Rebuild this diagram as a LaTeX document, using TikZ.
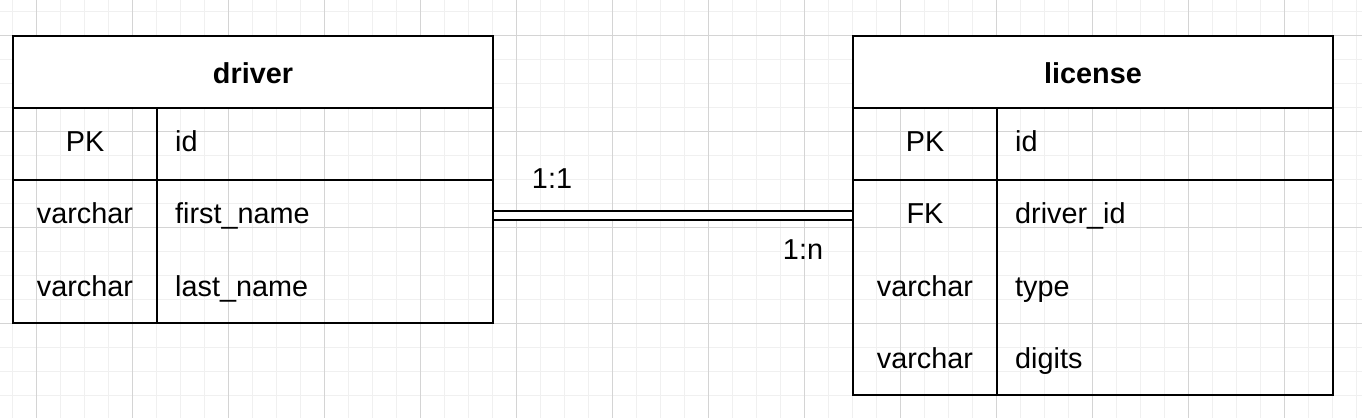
\documentclass[tikz,border=0pt]{standalone}
\usepackage{fontspec}
\setmainfont{Liberation Sans}

\begin{document}
\begin{tikzpicture}[x=1pt,y=-1pt,
    font=\fontsize{28.8}{34}\selectfont,
    minorgrid/.style={draw=black!6,line width=1pt},
    majorgrid/.style={draw=black!17,line width=1pt},
    tablebox/.style={draw,line width=2.4pt,inner sep=0pt,minimum width=480pt},
    headbox/.style={tablebox,fill=white,minimum height=72pt},
    rule/.style={line width=2.4pt},
    keytext/.style={anchor=base,inner sep=0pt},
    fieldtext/.style={anchor=base west,inner sep=0pt},
    relline/.style={draw,line width=2.4pt,double,double distance=7pt}]
      \useasboundingbox (0,0) rectangle (1362,418);
      \foreach \x in {12,36,...,1356} \draw[minorgrid] (\x,0) -- (\x,418);
      \foreach \y in {11,35,...,418} \draw[minorgrid] (0,\y) -- (1362,\y);
      \foreach \x in {36,132,...,1356} \draw[majorgrid] (\x,0) -- (\x,418);
      \foreach \y in {35,131,...,418} \draw[majorgrid] (0,\y) -- (1362,\y);
      \node[tablebox,minimum height=287pt] (driver) at (253,179.5) {};
      \node[headbox] (driverhead) at (253,72) {};
      \node[keytext] (drivertitle) at (253,83) {\bfseries driver};
      \draw[rule] (13,180) -- (493,180);
      \draw[rule] (157,108) -- (157,323);
      \node[keytext] (driverpk) at (85,151) {PK};
      \node[fieldtext] (driverid) at (175,151) {id};
      \node[keytext] (driverfirsttype) at (85,223) {varchar};
      \node[fieldtext] (driverfirst) at (175,223) {first\_name};
      \node[keytext] (driverlasttype) at (85,296) {varchar};
      \node[fieldtext] (driverlast) at (175,296) {last\_name};
      \node[tablebox,minimum height=359pt] (license) at (1093,215.5) {};
      \node[headbox] (licensehead) at (1093,72) {};
      \node[keytext] (licensetitle) at (1093,83) {\bfseries license};
      \draw[rule] (853,180) -- (1333,180);
      \draw[rule] (997,108) -- (997,395);
      \node[keytext] (licensepk) at (925,151) {PK};
      \node[fieldtext] (licenseid) at (1015,151) {id};
      \node[keytext] (licensefk) at (925,223) {FK};
      \node[fieldtext] (licensedriver) at (1015,223) {driver\_id};
      \node[keytext] (licensetypetype) at (925,296) {varchar};
      \node[fieldtext] (licensetype) at (1015,296) {type};
      \node[keytext] (licensedigitstype) at (925,368) {varchar};
      \node[fieldtext] (licensedigits) at (1015,368) {digits};
      \draw[relline] (driver.east |- license.west) -- (license.west);
      \node[keytext] (oneone) at (552,188) {1:1};
      \node[keytext] (onen) at (803,259) {1:n};
    \end{tikzpicture}
\end{document}
